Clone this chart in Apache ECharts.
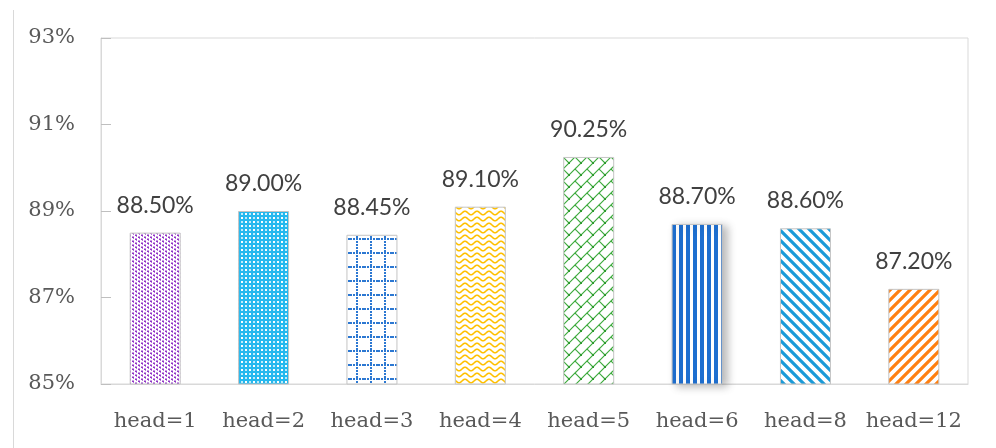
<!DOCTYPE html>
<html>
<head>
<meta charset="utf-8">
<script src="https://cdn.jsdelivr.net/npm/echarts@6/dist/echarts.min.js"></script>
<style>
html,body{margin:0;padding:0;background:#fff;}
#chart{width:996px;height:448px;}
</style>
</head>
<body>
<div id="chart"></div>
<script>
// ---- data ----
var categories = ['head=1','head=2','head=3','head=4','head=5','head=6','head=8','head=12'];
var values = [88.50, 89.00, 88.45, 89.10, 90.25, 88.70, 88.60, 87.20];
var yMin = 85, yMax = 93, yStep = 2;

// ---- patterns ----
function tile(w, h, fn) {
  var c = document.createElement('canvas');
  c.width = w; c.height = h;
  var g = c.getContext('2d');
  g.fillStyle = '#fff'; g.fillRect(0, 0, w, h);
  fn(g, w, h);
  return c;
}
function pat(c) { return { image: c, repeat: 'repeat' }; }
function seg(g, w, h, x1, y1, x2, y2) {
  for (var dx = -w; dx <= w; dx += w) for (var dy = -h; dy <= h; dy += h) {
    g.moveTo(x1 + dx, y1 + dy); g.lineTo(x2 + dx, y2 + dy);
  }
}

var patterns = [
  // 1 purple dotted columns
  pat(tile(6, 4, function (g) {
    g.fillStyle = '#C79BE3'; g.fillRect(0, 0, 2, 1); g.fillRect(3, 2, 2, 1);
    g.fillStyle = '#9234C6'; g.fillRect(0, 1, 2, 1); g.fillRect(3, 3, 2, 1);
    g.fillStyle = '#B47AD9'; g.fillRect(1, 2, 1, 1); g.fillRect(4, 0, 1, 1);
  })),
  // 2 cyan checks
  pat(tile(8, 8, function (g) {
    g.fillStyle = '#25B8EE'; g.fillRect(0, 0, 8, 8);
    g.fillStyle = '#ffffff';
    g.fillRect(1, 1, 2, 2); g.fillRect(5, 5, 2, 2);
    g.fillStyle = '#BDEAFA';
    g.fillRect(5, 1, 2, 2); g.fillRect(1, 5, 2, 2);
  })),
  // 3 blue dotted grid
  pat(tile(14, 14, function (g) {
    g.fillStyle = '#2C78D2';
    for (var x = 0; x < 14; x += 3) g.fillRect(x, 0, 2, 2);
    for (var y = 0; y < 14; y += 3) g.fillRect(6, y, 2, 2);
  })),
  // 4 yellow waves
  pat(tile(12, 6, function (g) {
    g.strokeStyle = '#FFC000'; g.lineWidth = 1.6;
    g.beginPath();
    for (var x = -1; x <= 13; x += 0.5) {
      var y = 3 + 1.8 * Math.sin(2 * Math.PI * x / 12);
      if (x === -1) g.moveTo(x, y); else g.lineTo(x, y);
    }
    g.stroke();
  })),
  // 5 green trellis
  pat(tile(12, 12, function (g, w, h) {
    g.strokeStyle = '#3DAA3D'; g.lineWidth = 1.2;
    g.beginPath();
    seg(g, w, h, 0, 12, 12, 0);
    seg(g, w, h, -1, 1, 5, 7);
    g.stroke();
    g.fillStyle = '#2E9A2E';
    g.fillRect(4, 6, 2, 2);
  })),
  // 6 blue vertical stripes
  pat(tile(7, 4, function (g) {
    g.fillStyle = '#1E6FD0'; g.fillRect(0, 0, 4, 4);
  })),
  // 7 blue backslash stripes
  pat(tile(10, 10, function (g) {
    g.strokeStyle = '#1A9AD8'; g.lineWidth = 3.2;
    g.beginPath();
    g.moveTo(-2, -2); g.lineTo(12, 12);
    g.moveTo(-2, 8); g.lineTo(2, 12);
    g.moveTo(8, -2); g.lineTo(12, 2);
    g.stroke();
  })),
  // 8 orange slash stripes
  pat(tile(10, 10, function (g) {
    g.strokeStyle = '#FF7F10'; g.lineWidth = 3.2;
    g.beginPath();
    g.moveTo(-2, 12); g.lineTo(12, -2);
    g.moveTo(-2, 2); g.lineTo(2, -2);
    g.moveTo(8, 12); g.lineTo(12, 8);
    g.stroke();
  }))
];

var barData = values.map(function (v, i) {
  var style = { color: patterns[i], borderColor: '#C4C4C4', borderWidth: 1 };
  if (i === 5) {
    style.shadowBlur = 9; style.shadowColor = 'rgba(0,0,0,0.28)';
    style.shadowOffsetX = 5; style.shadowOffsetY = 2;
  }
  return { value: v, itemStyle: style };
});

var chart = echarts.init(document.getElementById('chart'), null, { renderer: 'canvas' });
chart.setOption({
  animation: false,
  backgroundColor: '#fff',
  grid: { left: 101, right: 28, top: 38, bottom: 64, show: true, borderColor: '#D9D9D9', borderWidth: 1 },
  graphic: [{
    type: 'line', shape: { x1: 13.5, y1: 10, x2: 13.5, y2: 448 },
    style: { stroke: '#D9D9D9', lineWidth: 1 }
  }],
  xAxis: {
    type: 'category', data: categories,
    axisLine: { show: true, lineStyle: { color: '#D9D9D9' } },
    axisTick: { show: false },
    axisLabel: { interval: 0, fontFamily: 'DejaVu Serif', fontSize: 21, color: '#595959', margin: 27 }
  },
  yAxis: {
    type: 'value', min: yMin, max: yMax, interval: yStep,
    axisLine: { show: true, lineStyle: { color: '#D9D9D9' } },
    axisTick: { show: true, inside: true, length: 10, lineStyle: { color: '#BFBFBF' } },
    splitLine: { show: false },
    axisLabel: { fontFamily: 'DejaVu Serif', fontSize: 21, color: '#595959', margin: 26,
      formatter: function (v) { return v + '%'; } }
  },
  series: [{
    type: 'bar', data: barData, barWidth: 51,
    label: {
      show: true, position: 'top', distance: 16,
      fontFamily: 'Lato', fontSize: 23, color: '#404040',
      formatter: function (p) { return p.value.toFixed(2) + '%'; }
    }
  }]
});
</script>
</body>
</html>
